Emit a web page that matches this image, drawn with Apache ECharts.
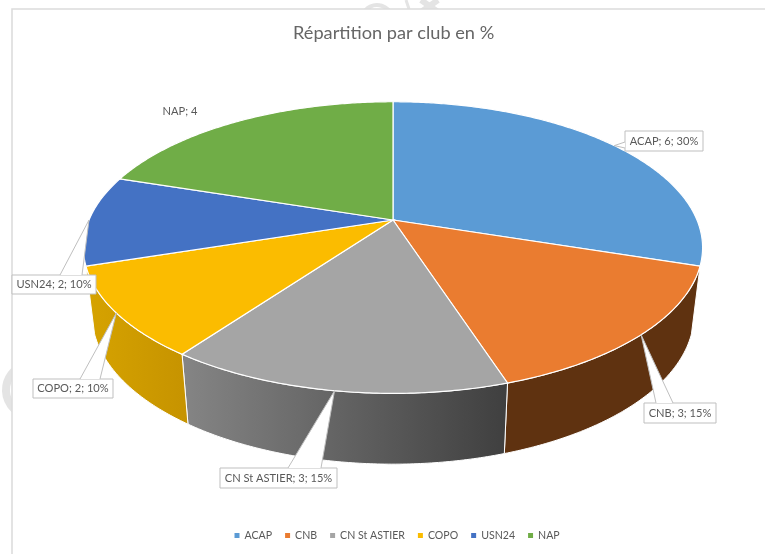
<!DOCTYPE html>
<html><head><meta charset="utf-8">
<style>html,body{margin:0;padding:0;background:#fff}#c{width:765px;height:554px}</style>
<script src="https://cdn.jsdelivr.net/npm/echarts@6/dist/echarts.min.js"></script>
</head><body><div id="c"></div>
<script>
const titleText = 'Répartition par club en %';
const categories = ['ACAP','CNB','CN St ASTIER','COPO','USN24','NAP'];
const values = [6,3,3,2,2,4];
const showPercent = [true,true,true,true,true,false];
const topColors = ['#5b9bd5','#ea7c30','#a5a5a5','#fbbc00','#4472c4','#70ad47'];
const wallLeft  = [null,'#5f3210','#858585','#d6a300',null,null];
const wallRight = [null,'#5f3210','#3f3f3f','#c69300',null,null];
// label boxes: [x, y, width, height], leader base on box top or left
const boxes = [[625,131,78,20],[644,403,72,20],[220,468,117,20],[33,379,80,19],[12,275,84,19],null];
const leaderBase = [[[625,142],[625,148]],[[656,403],[673,403]],[[288,468],[321,468]],[[80,379],[100,379]],[[60,275],[82,275]],null];

const total = values.reduce((a,b)=>a+b,0);
const K = 0.189;
const topDisc = {cx:393, cy:220, rx:304, ry:140.6};
const lowDisc = {cx:393, cy:286.6, rx:295.5, ry:144};
function project(d, th){
  const u = Math.sin(th), v = -Math.cos(th), w = 1 - K*v;
  return [d.cx + d.rx*u/w, d.cy + d.ry*v/w];
}
function arc(d, a, b){
  const n = Math.max(2, Math.ceil(Math.abs(b-a)/0.01)), p = [];
  for(let i=0;i<=n;i++) p.push(project(d, a+(b-a)*i/n));
  return p;
}
let acc = 0;
const starts = values.map(v=>{const s=acc; acc+=v; return s;});

function renderSlice(idx){
  return function(){
    const a = starts[idx]/total*2*Math.PI, b = (starts[idx]+values[idx])/total*2*Math.PI;
    const ch = [];
    if(wallLeft[idx]){
      const pts = arc(topDisc,a,b).concat(arc(lowDisc,b,a));
      ch.push({type:'polygon',z2:1,shape:{points:pts},style:{
        fill:{type:'linear',x:0,y:0,x2:1,y2:0,colorStops:[
          {offset:0,color:wallLeft[idx]},{offset:1,color:wallRight[idx]}]},
        stroke:'#fff',lineWidth:1}});
    }
    ch.push({type:'polygon',z2:2,shape:{points:[[topDisc.cx,topDisc.cy]].concat(arc(topDisc,a,b))},
      style:{fill:topColors[idx],stroke:'#fff',lineWidth:1.2}});
    const mid = (a+b)/2, tip = project(topDisc,mid);
    const pct = Math.round(values[idx]/total*100);
    const text = categories[idx]+'; '+values[idx]+(showPercent[idx]?'; '+pct+'%':'');
    if(boxes[idx]){
      const bx = boxes[idx], lb = leaderBase[idx];
      ch.push({type:'rect',z2:10,shape:{x:bx[0],y:bx[1],width:bx[2],height:bx[3]},
        style:{fill:'#fff',stroke:'#bfbfbf',lineWidth:1}});
      ch.push({type:'polygon',z2:11,shape:{points:[lb[0],tip,lb[1]]},
        style:{fill:'#fff',stroke:null}});
      ch.push({type:'polyline',z2:12,shape:{points:[lb[0],tip,lb[1]]},
        style:{fill:null,stroke:'#bfbfbf',lineWidth:1}});
      ch.push({type:'text',z2:13,style:{x:bx[0]+bx[2]/2,y:bx[1]+bx[3]/2,text:text,align:'center',verticalAlign:'middle',
        fill:'#595959',font:'11.1px Lato'}});
    } else {
      ch.push({type:'text',z2:13,style:{x:180,y:111,text:text,align:'center',verticalAlign:'middle',
        fill:'#595959',font:'11.1px Lato'}});
    }
    return {type:'group',children:ch};
  };
}

const chart = echarts.init(document.getElementById('c'),null,{renderer:'canvas'});
chart.setOption({
  animation:false,
  backgroundColor:'#fff',
  color:topColors,
  title:{text:titleText,left:293,top:24,padding:0,textStyle:{fontFamily:'Lato',fontSize:18.2,fontWeight:'normal',color:'#666666'}},
  legend:{data:categories,left:234.5,top:530,itemWidth:5,itemHeight:5,itemGap:13,icon:'rect',padding:0,
    textStyle:{fontFamily:'Lato',fontSize:10.6,color:'#595959'}},
  graphic:[
    {type:'arc',silent:true,shape:{cx:32,cy:390,r:26,startAngle:Math.PI*0.55,endAngle:Math.PI*1.45},style:{fill:null,stroke:'#e4e4e4',lineWidth:8}},
    {type:'arc',silent:true,shape:{cx:377,cy:20,r:15,startAngle:Math.PI*1.1,endAngle:Math.PI*1.9},style:{fill:null,stroke:'#e4e4e4',lineWidth:4}},
    {type:'line',silent:true,shape:{x1:406,y1:0,x2:409,y2:9},style:{stroke:'#e4e4e4',lineWidth:3}},
    {type:'line',silent:true,shape:{x1:421,y1:0,x2:438,y2:12},style:{stroke:'#e4e4e4',lineWidth:6}},
    {type:'line',silent:true,shape:{x1:438,y1:0,x2:421,y2:12},style:{stroke:'#e4e4e4',lineWidth:6}},
    {type:'rect',silent:true,shape:{x:12,y:9,width:770,height:560},style:{fill:'#fff',stroke:'#dcdcdc',lineWidth:1.6}}
  ],
  series:categories.map((name,i)=>({
    type:'custom',name:name,coordinateSystem:'none',
    renderItem:renderSlice(i),data:[[values[i]]],
    itemStyle:{color:topColors[i]},silent:true
  }))
});
</script></body></html>
